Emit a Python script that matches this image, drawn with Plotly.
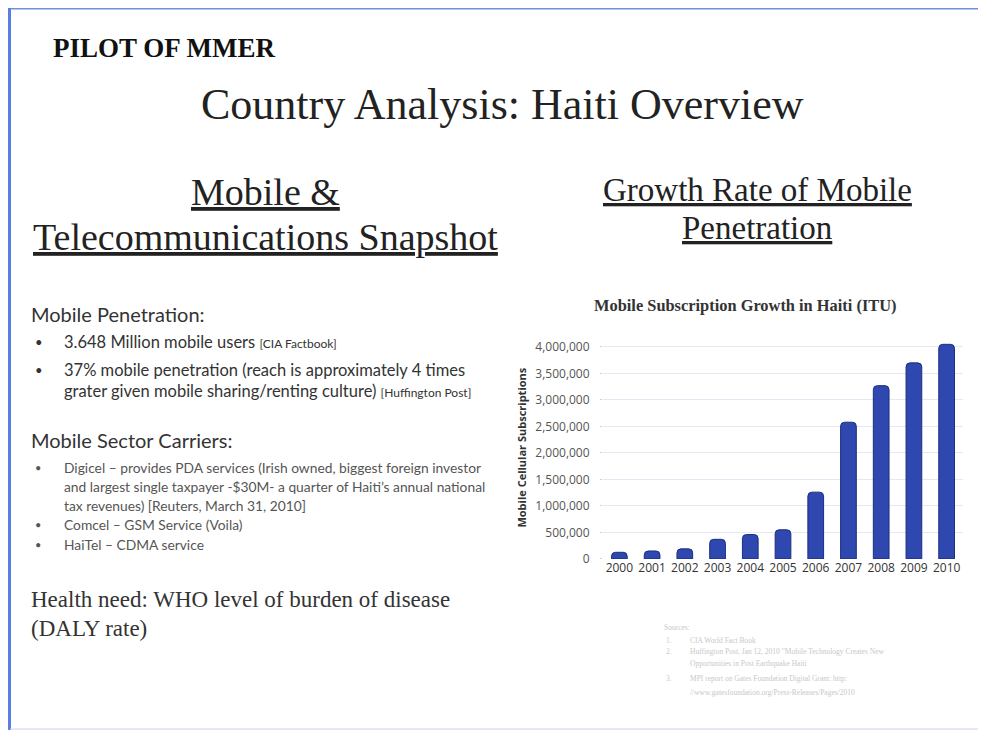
import plotly.graph_objects as go

# ---- data ----
years = ["2000", "2001", "2002", "2003", "2004", "2005", "2006", "2007", "2008", "2009", "2010"]
subscriptions = [125000, 150000, 190000, 370000, 460000, 550000, 1260000, 2580000, 3270000, 3700000, 4050000]
y_ticks = [0, 500000, 1000000, 1500000, 2000000, 2500000, 3000000, 3500000, 4000000]

OFF = 8  # page body margin
W, H = 986 - OFF, 740 - OFF


def px(x):
    return (x - OFF) / W


def py(y):
    return 1 - (y - OFF) / H


fig = go.Figure()
fig.add_trace(go.Bar(
    x=years, y=subscriptions,
    marker=dict(color="#2e48b0", line=dict(color="#1c2e80", width=1)),
    width=0.48,
    showlegend=False,
))

serif = "Liberation Serif, Times New Roman, serif"
sans = "Lato, Noto Sans, sans-serif"

ann = []


def text(x, y, s, size, family=sans, color="#222", anchor="left", **kw):
    ann.append(dict(x=px(x), y=py(y), xref="paper", yref="paper", text=s,
                    showarrow=False, xanchor=anchor, yanchor="middle",
                    font=dict(size=size, family=family, color=color), **kw))


text(51, 48, "<b>PILOT OF MMER</b>", 27, serif, "#111")
text(503, 106, "Country Analysis: Haiti Overview", 44, serif, "#222", "center")
text(265, 194, "<u>Mobile &amp;</u>", 38, serif, "#222", "center")
text(265, 240, "<u>Telecommunications Snapshot</u>", 38, serif, "#222", "center")
text(757, 192, "<u>Growth Rate of Mobile</u>", 33, serif, "#222", "center")
text(757, 230, "<u>Penetration</u>", 33, serif, "#222", "center")

text(29, 317, "Mobile Penetration:", 20, sans, "#333")
text(33, 346, "•", 13, sans, "#333")
text(62, 346, "3.648 Million mobile users <span style='font-size:12px'>[CIA Factbook]</span>", 16.5, sans, "#333")
text(33, 374, "•", 13, sans, "#333")
text(62, 374, "37% mobile penetration (reach is approximately 4 times", 16.5, sans, "#333")
text(62, 395, "grater given mobile sharing/renting culture) <span style='font-size:12px'>[Huffington Post]</span>", 16.5, sans, "#333")

text(29, 445, "Mobile Sector Carriers:", 20, sans, "#333")
text(33, 473, "•", 11, sans, "#555")
text(62, 473, "Digicel – provides PDA services (Irish owned, biggest foreign investor", 13.8, sans, "#555")
text(62, 492, "and largest single taxpayer -$30M- a quarter of Haiti’s annual national", 13.8, sans, "#555")
text(62, 511, "tax revenues) [Reuters, March 31, 2010]", 13.8, sans, "#555")
text(33, 530, "•", 11, sans, "#555")
text(62, 530, "Comcel – GSM Service (Voila)", 13.8, sans, "#555")
text(33, 550, "•", 11, sans, "#555")
text(62, 550, "HaiTel – CDMA service", 13.8, sans, "#555")

text(29, 606, "Health need: WHO level of burden of disease", 23, serif, "#333")
text(29, 635, "(DALY rate)", 23, serif, "#333")

text(745, 309, "<b>Mobile Subscription Growth in Haiti (ITU)</b>", 16.4, serif, "#333", "center")

fn_col = "#c8c8c8"
text(662, 634, "Sources:", 7.5, serif, fn_col)
text(664, 647, "1.", 7.5, serif, fn_col)
text(688, 647, "CIA World Fact Book", 7.5, serif, fn_col)
text(664, 659, "2.", 7.5, serif, fn_col)
text(688, 659, "Huffington Post, Jan 12, 2010 \"Mobile Technology Creates New", 7.5, serif, fn_col)
text(688, 671, "Opportunities in Post Earthquake Haiti", 7.5, serif, fn_col)
text(664, 686, "3.", 7.5, serif, fn_col)
text(688, 686, "MPI report on Gates Foundation Digital Grant: http:", 7.5, serif, fn_col)
text(688, 700, "//www.gatesfoundation.org/Press-Releases/Pages/2010", 7.5, serif, fn_col)

shapes = [
    dict(type="line", xref="paper", yref="paper", x0=px(10), x1=px(986), y0=py(8.5), y1=py(8.5),
         line=dict(color="#6f8fe0", width=2)),
    dict(type="line", xref="paper", yref="paper", x0=px(9.5), x1=px(9.5), y0=py(8), y1=py(738),
         line=dict(color="#5b7fe0", width=3)),
    dict(type="line", xref="paper", yref="paper", x0=px(10), x1=px(986), y0=py(737), y1=py(737),
         line=dict(color="#c9d2ea", width=1)),
]

fig.update_layout(
    width=W, height=H,
    margin=dict(l=0, r=0, t=0, b=0),
    paper_bgcolor="white", plot_bgcolor="white",
    annotations=ann, shapes=shapes,
    xaxis=dict(domain=[px(603), px(963)], range=[-0.5, 10.5], showgrid=False,
               showline=False, ticks="",
               tickfont=dict(size=12, family="Open Sans, sans-serif", color="#333")),
    yaxis=dict(domain=[py(565), py(340)], range=[0, 4200000], tickvals=y_ticks,
               tickformat=",", showgrid=True, gridcolor="#e4e8f4", gridwidth=1,
               zeroline=False, showline=False, ticks="outside", ticklen=2,
               tickcolor="#d0d0d0", ticklabelstandoff=8,
               tickfont=dict(size=12, family="Open Sans, sans-serif", color="#555"),
               title=dict(text="<b>Mobile Cellular Subscriptions</b>", standoff=6,
                          font=dict(size=11, family="Open Sans, sans-serif", color="#333"))),
    barcornerradius=4,
)

fig.write_html("out.html")
